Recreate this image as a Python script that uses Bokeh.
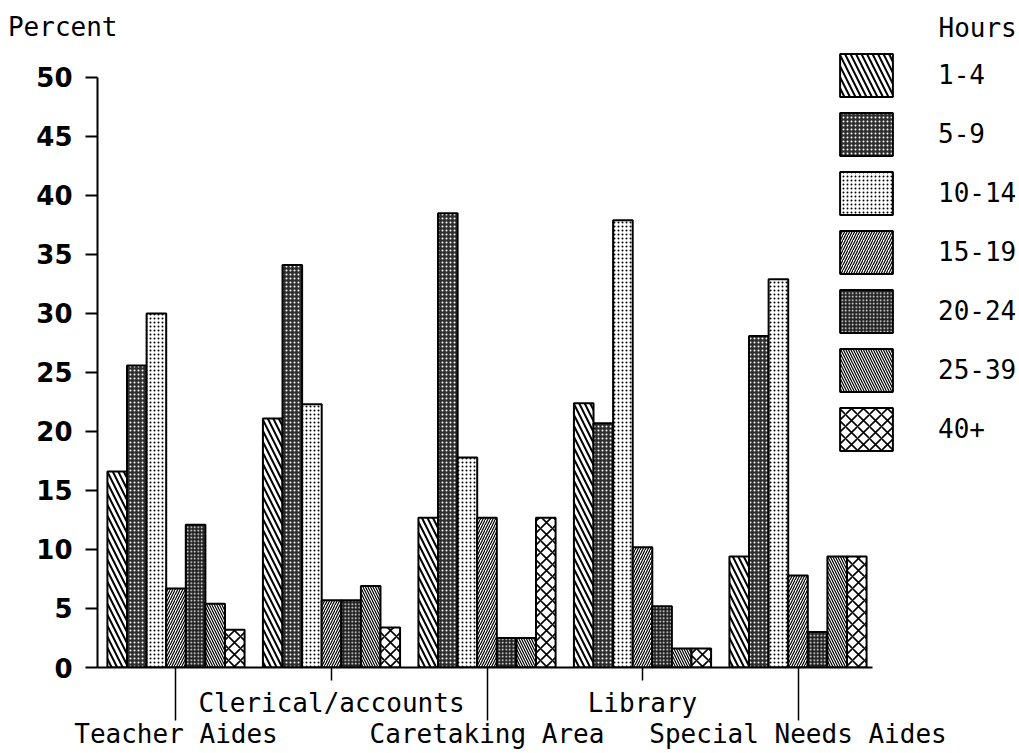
from bokeh.plotting import figure
from bokeh.models import (ColumnDataSource, Range1d, FixedTicker, LinearAxis,
                          Legend, LegendItem, Label)
from bokeh.transform import dodge
from bokeh.embed import file_html
from bokeh.resources import INLINE

# ---------------- data ----------------
categories = ["Teacher Aides", "Clerical/accounts", "Caretaking Area",
              "Library", "Special Needs Aides"]
hours = ["1-4", "5-9", "10-14", "15-19", "20-24", "25-39", "40+"]
h_1_4 = [16.6, 21.1, 12.7, 22.4, 9.4]
h_5_9 = [25.6, 34.1, 38.5, 20.7, 28.1]
h_10_14 = [30.0, 22.3, 17.8, 37.9, 32.9]
h_15_19 = [6.7, 5.7, 12.7, 10.2, 7.8]
h_20_24 = [12.1, 5.7, 2.5, 5.2, 3.0]
h_25_39 = [5.4, 6.9, 2.5, 1.6, 9.4]
h_40_plus = [3.2, 3.4, 12.7, 1.6, 9.4]
y_ticks = [0, 5, 10, 15, 20, 25, 30, 35, 40, 45, 50]
y_title = "Percent"
legend_title = "Hours"

series = [h_1_4, h_5_9, h_10_14, h_15_19, h_20_24, h_25_39, h_40_plus]
keys = ["s%d" % i for i in range(len(series))]
idx = list(range(len(categories)))
data = {"x": idx}
for k, s in zip(keys, series):
    data[k] = s
source = ColumnDataSource(data)

MONO = "DejaVu Sans Mono"
FS = "26px"

x_lo, x_hi = -0.5048, 5.4244
y_hi = 56.525
p = figure(width=1019, height=753, x_range=Range1d(x_lo, x_hi), y_range=Range1d(0, y_hi),
           output_backend="svg", toolbar_location=None,
           x_axis_type=None, y_axis_type=None,
           min_border_left=97, min_border_right=0, min_border_top=0, min_border_bottom=86)
p.outline_line_color = None
p.background_fill_color = "white"
p.border_fill_color = "white"

# y axis
yaxis = LinearAxis(ticker=FixedTicker(ticks=y_ticks), bounds=(0, 50),
                   axis_line_width=2, major_tick_line_width=2,
                   major_tick_out=12, major_tick_in=0, minor_tick_out=0, minor_tick_in=0,
                   major_label_standoff=13, major_label_text_font="DejaVu Sans",
                   major_label_text_font_style="bold", major_label_text_font_size="26px",
                   major_label_text_color="black")
p.add_layout(yaxis, "left")

# axis title "Percent" carried by an outer, line-less axis at the top
y_title_pos = 54.3
ytitle_axis = LinearAxis(ticker=FixedTicker(ticks=[y_title_pos], minor_ticks=[]),
                         bounds=(54.0, 54.6),
                         major_label_overrides={y_title_pos: y_title},
                         axis_line_color=None, major_tick_line_color=None,
                         minor_tick_line_color=None, major_tick_out=0, major_tick_in=0,
                         minor_tick_out=0, minor_tick_in=0, major_label_standoff=-84,
                         major_label_text_font=MONO, major_label_text_font_size=FS,
                         major_label_text_color="black")
p.add_layout(ytitle_axis, "left")

# x axes (staggered labels)
even = [i for i in idx if i % 2 == 1]
odd = [i for i in idx if i % 2 == 0]
xaxis1 = LinearAxis(ticker=FixedTicker(ticks=even, minor_ticks=odd), bounds=(x_lo, 4.479),
                    major_label_overrides={i: categories[i] for i in even},
                    axis_line_width=2, major_tick_line_width=1.5, minor_tick_line_width=1.5,
                    major_tick_out=13, major_tick_in=0, minor_tick_out=53, minor_tick_in=0,
                    major_label_standoff=-33, major_label_text_font=MONO,
                    major_label_text_font_size=FS, major_label_text_color="black")
xaxis2 = LinearAxis(ticker=FixedTicker(ticks=odd, minor_ticks=[]),
                    major_label_overrides={i: categories[i] for i in odd},
                    axis_line_color=None, major_tick_line_color=None, minor_tick_line_color=None,
                    major_tick_out=0, major_tick_in=0, minor_tick_out=0, minor_tick_in=0,
                    major_label_standoff=-2, major_label_text_font=MONO,
                    major_label_text_font_size=FS, major_label_text_color="black")
p.add_layout(xaxis1, "below")
p.add_layout(xaxis2, "below")

# bars
w = 0.126
styles = [
    dict(fill_color="white", hatch_pattern="left_diagonal_line", hatch_scale=11, hatch_weight=2),
    dict(fill_color="#2e2e2e", hatch_pattern="dot", hatch_scale=4, hatch_weight=1, hatch_color="white"),
    dict(fill_color="white", hatch_pattern="dot", hatch_scale=4, hatch_weight=1, hatch_color="black"),
    dict(fill_color="white", hatch_pattern="right_diagonal_line", hatch_scale=5, hatch_weight=1.2),
    dict(fill_color="#222222", hatch_pattern="dot", hatch_scale=3.5, hatch_weight=1, hatch_color="white"),
    dict(fill_color="white", hatch_pattern="left_diagonal_line", hatch_scale=5, hatch_weight=1.2),
    dict(fill_color="white", hatch_pattern="diagonal_cross", hatch_scale=12, hatch_weight=1.6),
]
items = []
for i, (k, st) in enumerate(zip(keys, styles)):
    st = dict(st)
    st.setdefault("hatch_color", "black")
    r = p.vbar(x=dodge("x", (i - 3) * w, range=p.x_range), top=k, width=w, source=source,
               line_color="black", line_width=2, **st)
    items.append(LegendItem(label=hours[i], renderers=[r]))

legend = Legend(items=items, location=(736, 211), glyph_width=66, glyph_height=54,
                spacing=5, label_standoff=39, label_text_font=MONO, label_text_font_size=FS,
                label_text_color="black", padding=0, margin=0, border_line_color=None,
                background_fill_alpha=0)
p.add_layout(legend)

p.add_layout(Label(x=841, y=640, x_units="screen", y_units="screen", text=legend_title,
                   text_font=MONO, text_font_size=FS, text_baseline="alphabetic",
                   text_color="black"))

open("out.html", "w").write(file_html(p, INLINE))
